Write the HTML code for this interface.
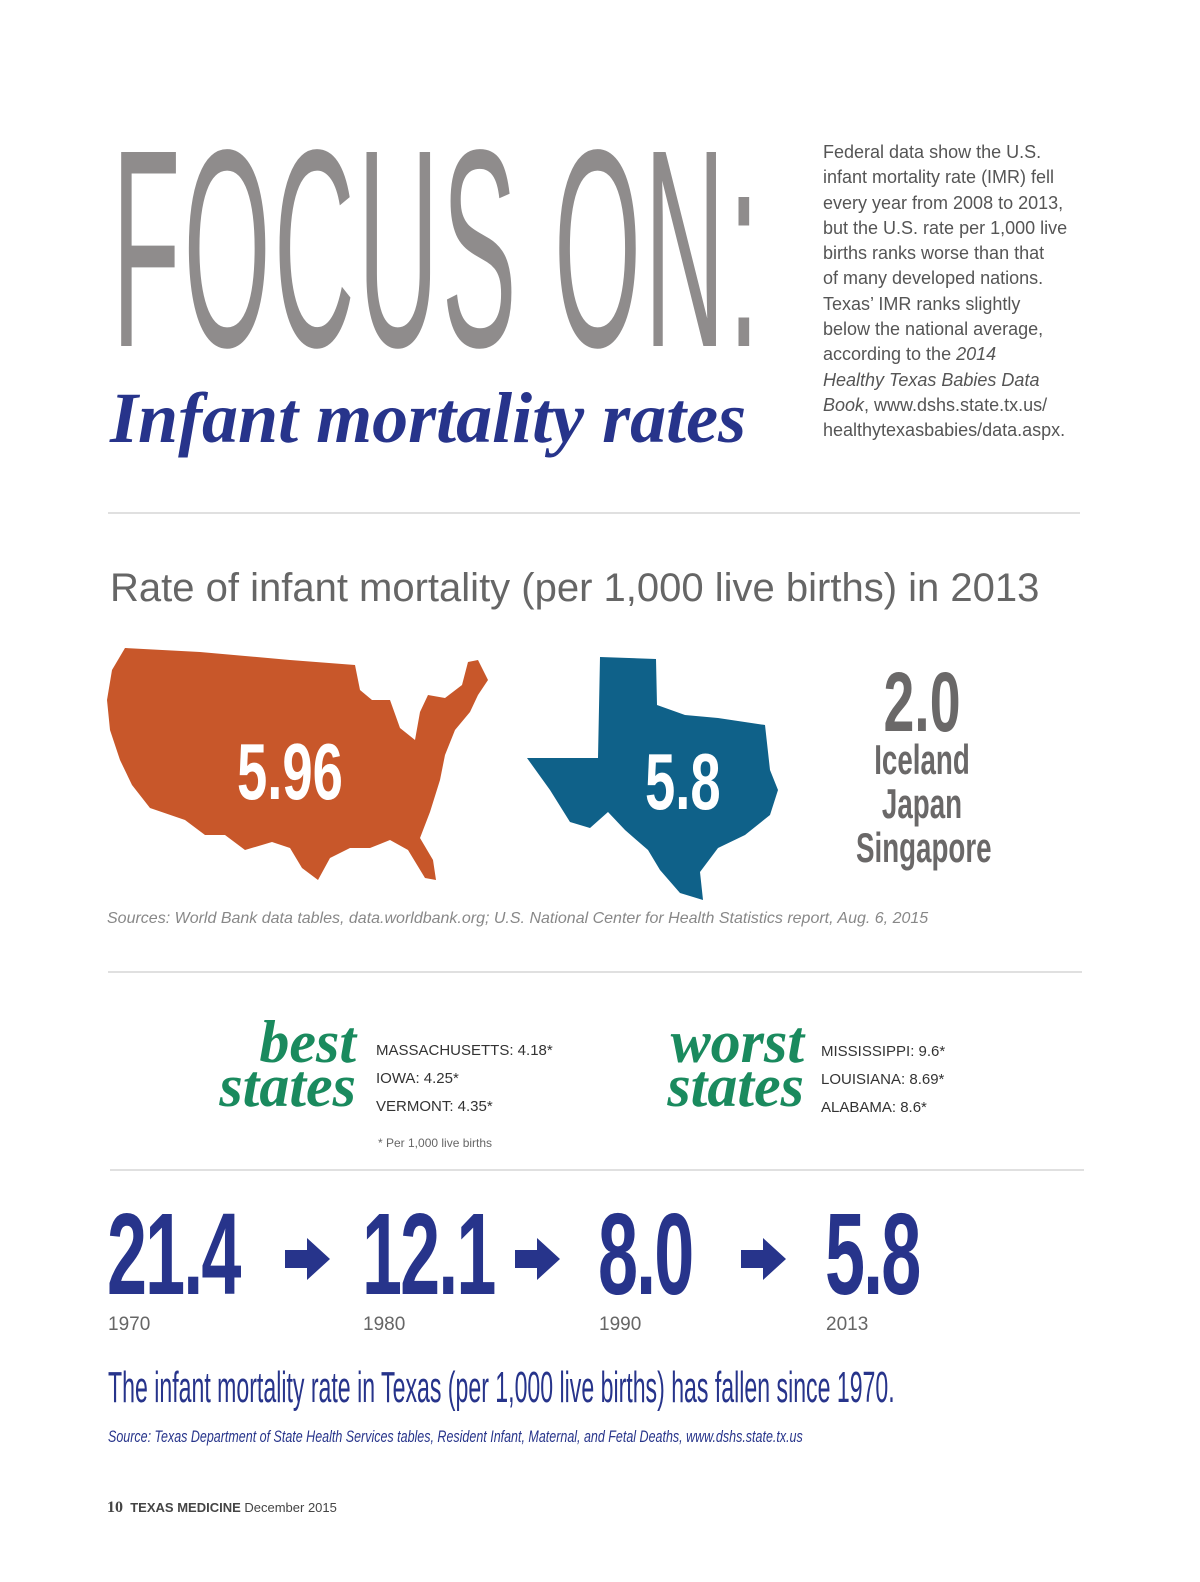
<!DOCTYPE html>
<html><head><meta charset="utf-8"><style>
body{margin:0;background:#fff;}
#page{position:relative;width:1200px;height:1582px;overflow:hidden;font-family:"Liberation Sans",sans-serif;}
.a{position:absolute;white-space:nowrap;}
.cond{transform-origin:0 0;display:inline-block;}
.hr{position:absolute;height:2px;background:#e0e0e0;}
</style></head><body>
<div id="page">

<div class="a" style="left:112px;top:108px;font-size:282px;color:#8f8c8c;line-height:1;">
<span class="cond" style="transform:scaleX(0.397);letter-spacing:8px;">FOCUS ON:</span></div>

<div class="a" style="left:110px;top:382px;font-family:'Liberation Serif',serif;font-style:italic;font-weight:bold;font-size:72px;color:#27348b;line-height:1;"><span class="cond" style="transform:scaleX(1.0)">Infant mortality rates</span></div>

<div class="a" style="left:823px;top:140px;font-size:18px;line-height:25.3px;color:#555;white-space:normal;width:270px;">
Federal data show the U.S.<br>infant mortality rate (IMR) fell<br>every year from 2008 to 2013,<br>but the U.S. rate per 1,000 live<br>births ranks worse than that<br>of many developed nations.<br>Texas’ IMR ranks slightly<br>below the national average,<br>according to the <i>2014</i><br><i>Healthy Texas Babies Data</i><br><i>Book</i>, www.dshs.state.tx.us/<br>healthytexasbabies/data.aspx.</div>

<div class="hr" style="left:108px;top:512px;width:972px;"></div>

<div class="a" style="left:110px;top:566px;font-size:40px;color:#666;">Rate of infant mortality (per 1,000 live births) in 2013</div>

<svg class="a" style="left:0;top:0" width="1200" height="1582">
<polygon fill="#c8572a" points="125,648 200,652 290,660 355,665 360,690 372,700 390,700 400,728 415,740 420,712 428,695 445,698 462,685 468,662 478,660 488,680 478,695 470,712 455,730 445,755 440,780 430,812 420,838 433,860 436,880 425,878 408,850 390,840 370,848 350,848 330,858 318,880 302,868 290,848 272,842 245,850 225,835 205,835 185,820 150,808 132,785 120,760 110,730 107,700 112,670"/>
<polygon fill="#0f6189" points="600,657 656,659 657,705 685,715 718,718 765,725 770,770 778,790 770,815 745,835 718,848 700,872 703,900 680,893 660,870 648,850 625,830 608,812 590,828 570,822 550,790 527,758 598,758"/>
</svg>

<div class="a" style="left:237px;top:732px;font-size:80px;font-weight:bold;color:#fff;line-height:1;"><span class="cond" style="transform:scaleX(0.68)">5.96</span></div>
<div class="a" style="left:645px;top:742px;font-size:80px;font-weight:bold;color:#fff;line-height:1;"><span class="cond" style="transform:scaleX(0.68)">5.8</span></div>

<div class="a" style="left:822px;top:660px;width:200px;text-align:center;color:#6a6868;font-weight:bold;line-height:1;">
<div style="font-size:84px;transform:scaleX(0.66);">2.0</div>
<div style="font-size:42px;transform:scaleX(0.66);margin-top:-6px;line-height:44px;">Iceland<br>Japan<br>Singapore</div></div>

<div class="a" style="left:107px;top:910px;font-size:16px;font-style:italic;color:#888;">Sources: World Bank data tables, data.worldbank.org; U.S. National Center for Health Statistics report, Aug. 6, 2015</div>

<div class="hr" style="left:108px;top:971px;width:974px;"></div>

<div class="a" style="left:150px;top:1020px;width:206px;text-align:right;font-family:'Liberation Serif',serif;font-style:italic;font-weight:bold;font-size:60px;color:#1a8a5e;line-height:44px;">best<br>states</div>
<div class="a" style="left:376px;top:1037px;font-size:15px;color:#333;line-height:28px;">MASSACHUSETTS: 4.18*<br>IOWA: 4.25*<br>VERMONT: 4.35*</div>
<div class="a" style="left:580px;top:1020px;width:224px;text-align:right;font-family:'Liberation Serif',serif;font-style:italic;font-weight:bold;font-size:60px;color:#1a8a5e;line-height:44px;">worst<br>states</div>
<div class="a" style="left:821px;top:1038px;font-size:15px;color:#333;line-height:28px;">MISSISSIPPI: 9.6*<br>LOUISIANA: 8.69*<br>ALABAMA: 8.6*</div>
<div class="a" style="left:378px;top:1136px;font-size:12px;color:#666;">* Per 1,000 live births</div>

<div class="hr" style="left:110px;top:1169px;width:974px;"></div>

<div id="timeline"></div>

<div class="a" style="left:108px;top:1366px;font-size:44px;color:#27348b;line-height:1;"><span class="cond" style="transform:scaleX(0.525)">The infant mortality rate in Texas (per 1,000 live births) has fallen since 1970.</span></div>
<div class="a" style="left:108px;top:1427px;font-size:17px;font-style:italic;color:#27348b;"><span class="cond" style="transform:scaleX(0.735)">Source: Texas Department of State Health Services tables, Resident Infant, Maternal, and Fetal Deaths, www.dshs.state.tx.us</span></div>

<div class="a" style="left:107px;top:1499px;font-size:13px;color:#444;"><b style="font-family:'Liberation Serif',serif;font-size:16px;">10</b>&nbsp; <b>TEXAS MEDICINE</b> December 2015</div>
</div>
<script>
const years=["1970","1980","1990","2013"];
const rates=["21.4","12.1","8.0","5.8"];
const xs=[107,362,598,825];
const pg=document.getElementById('page');
years.forEach((y,i)=>{
  const n=document.createElement('div');n.className='a';
  
  
  n.style.cssText=`left:${xs[i]}px;top:1196px;font-size:116px;font-weight:bold;color:#27348b;line-height:1;letter-spacing:-3px;`;
  n.innerHTML=`<span class="cond" style="transform:scaleX(0.62)">${rates[i]}</span>`;
  pg.appendChild(n);
  const l=document.createElement('div');l.className='a';
  
  
  l.style.cssText=`left:${xs[i]+1}px;top:1314px;font-size:19px;color:#666;`;
  l.textContent=y;pg.appendChild(l);
  if(i<years.length-1){
    const ax=[285,515,741][i];
    const s=document.createElementNS('http://www.w3.org/2000/svg','svg');
    
    
    s.setAttribute('width','46');s.setAttribute('height','46');
    s.style.cssText=`position:absolute;left:${ax}px;top:1236px;`;
    s.innerHTML='<polygon fill="#27348b" points="0,14 22,14 22,2 45,23 22,44 22,32 0,32"/>';
    pg.appendChild(s);
  }
});
</script>
</body></html>
